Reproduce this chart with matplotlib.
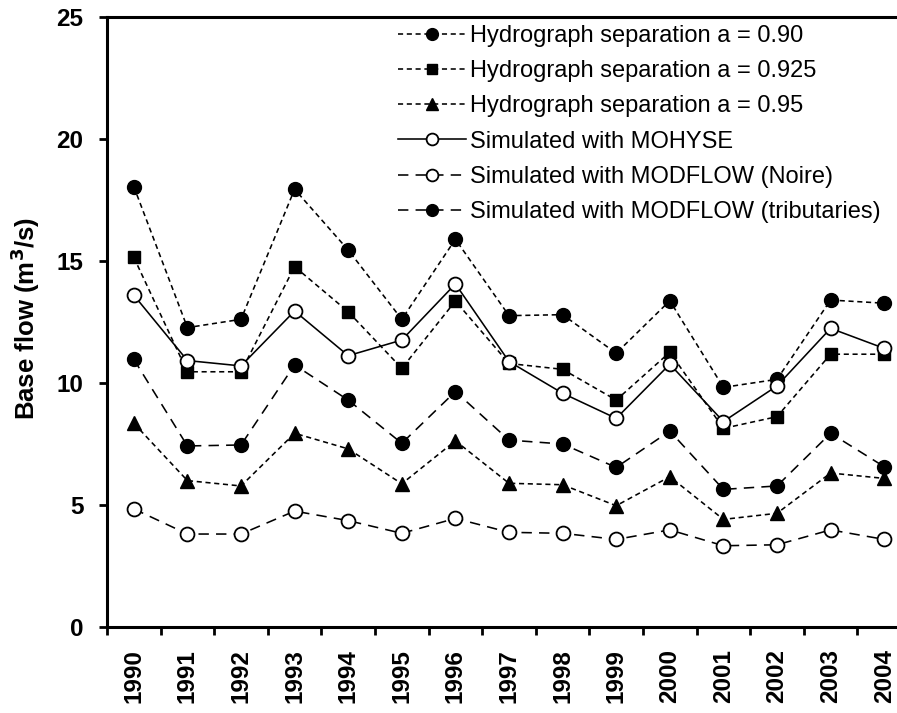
import numpy as np
import matplotlib
matplotlib.use("Agg")
import matplotlib.pyplot as plt

years = ["1990", "1991", "1992", "1993", "1994", "1995", "1996", "1997",
         "1998", "1999", "2000", "2001", "2002", "2003", "2004"]
hs_090 = [18.05, 12.27, 12.61, 17.94, 15.45, 12.61, 15.89, 12.76, 12.80, 11.22,
          13.37, 9.82, 10.15, 13.40, 13.27]
hs_0925 = [15.15, 10.46, 10.46, 14.77, 12.92, 10.60, 13.36, 10.80, 10.56, 9.30,
           11.26, 8.14, 8.62, 11.18, 11.18]
hs_095 = [8.35, 6.00, 5.78, 7.94, 7.30, 5.87, 7.63, 5.89, 5.83, 4.97,
          6.16, 4.41, 4.66, 6.31, 6.09]
mohyse = [13.60, 10.92, 10.70, 12.95, 11.12, 11.76, 14.06, 10.88, 9.58, 8.55,
          10.77, 8.42, 9.88, 12.24, 11.42]
modflow_noire = [4.84, 3.81, 3.81, 4.75, 4.36, 3.84, 4.45, 3.88, 3.84, 3.59,
                 3.98, 3.33, 3.37, 3.98, 3.59]
modflow_trib = [10.97, 7.42, 7.46, 10.74, 9.30, 7.53, 9.65, 7.66, 7.50, 6.54,
                8.03, 5.64, 5.78, 7.94, 6.57]

labels = ["Hydrograph separation a = 0.90",
          "Hydrograph separation a = 0.925",
          "Hydrograph separation a = 0.95",
          "Simulated with MOHYSE",
          "Simulated with MODFLOW (Noire)",
          "Simulated with MODFLOW (tributaries)"]

plt.rcParams['font.family'] = ['Liberation Sans', 'DejaVu Sans']

W, H = 897, 713
fig = plt.figure(figsize=(W / 100, H / 100), dpi=100)
left, right, top, bottom = 107, 911, 17, 627
ax = fig.add_axes([left / W, 1 - bottom / H, (right - left) / W, (bottom - top) / H])

x = np.arange(len(years))
short_dash = (0, (3.2, 2.3))
long_dash = (0, (6.5, 4.5))
lw = 1.15

ax.plot(x, hs_090, color='black', lw=lw, ls=short_dash, marker='o', ms=10,
        mfc='black', mec='black', label=labels[0])
ax.plot(x, hs_0925, color='black', lw=lw, ls=short_dash, marker='s', ms=8,
        mfc='black', mec='black', label=labels[1])
ax.plot(x, hs_095, color='black', lw=lw, ls=short_dash, marker='^', ms=10.5,
        mfc='black', mec='black', label=labels[2])
ax.plot(x, mohyse, color='black', lw=lw, ls='-', marker='o', ms=10,
        mfc='white', mec='black', mew=1.3, label=labels[3])
ax.plot(x, modflow_noire, color='black', lw=lw, ls=long_dash, marker='o', ms=10,
        mfc='white', mec='black', mew=1.3, label=labels[4])
ax.plot(x, modflow_trib, color='black', lw=lw, ls=long_dash, marker='o', ms=10,
        mfc='black', mec='black', label=labels[5])

ax.set_xlim(-0.5, len(years) - 0.5)
ax.set_ylim(0, 25)
ax.set_yticks([0, 5, 10, 15, 20, 25])
ax.set_xticks(x)
ax.set_xticklabels(years, rotation=90, fontsize=17.5, fontweight='bold')
ax.set_xticks(np.arange(-0.5, len(years), 1.0), minor=True)
ax.tick_params(axis='x', which='major', length=0, pad=16)
ax.tick_params(axis='x', which='minor', length=6, width=2, direction='out')
ax.tick_params(axis='y', which='major', length=6, width=2, direction='out',
               labelsize=17.5, pad=11)
for lab in ax.get_yticklabels():
    lab.set_fontweight('bold')
for s in ax.spines.values():
    s.set_linewidth(2.2)

ax.set_ylabel("Base flow (m$^{\\mathbf{3}}$/s)", fontsize=18.5, fontweight='bold')
ax.yaxis.set_label_coords(42 / W, 1 - 318 / H, transform=fig.transFigure)

leg = ax.legend(loc='upper left', bbox_to_anchor=(398 / W, 1 - 25 / H),
                bbox_transform=fig.transFigure, frameon=False, fontsize=17,
                handlelength=2.9, handletextpad=0.15, labelspacing=0.56,
                borderpad=0, borderaxespad=0, markerscale=0.85)

fig.savefig("out.png", dpi=100)
